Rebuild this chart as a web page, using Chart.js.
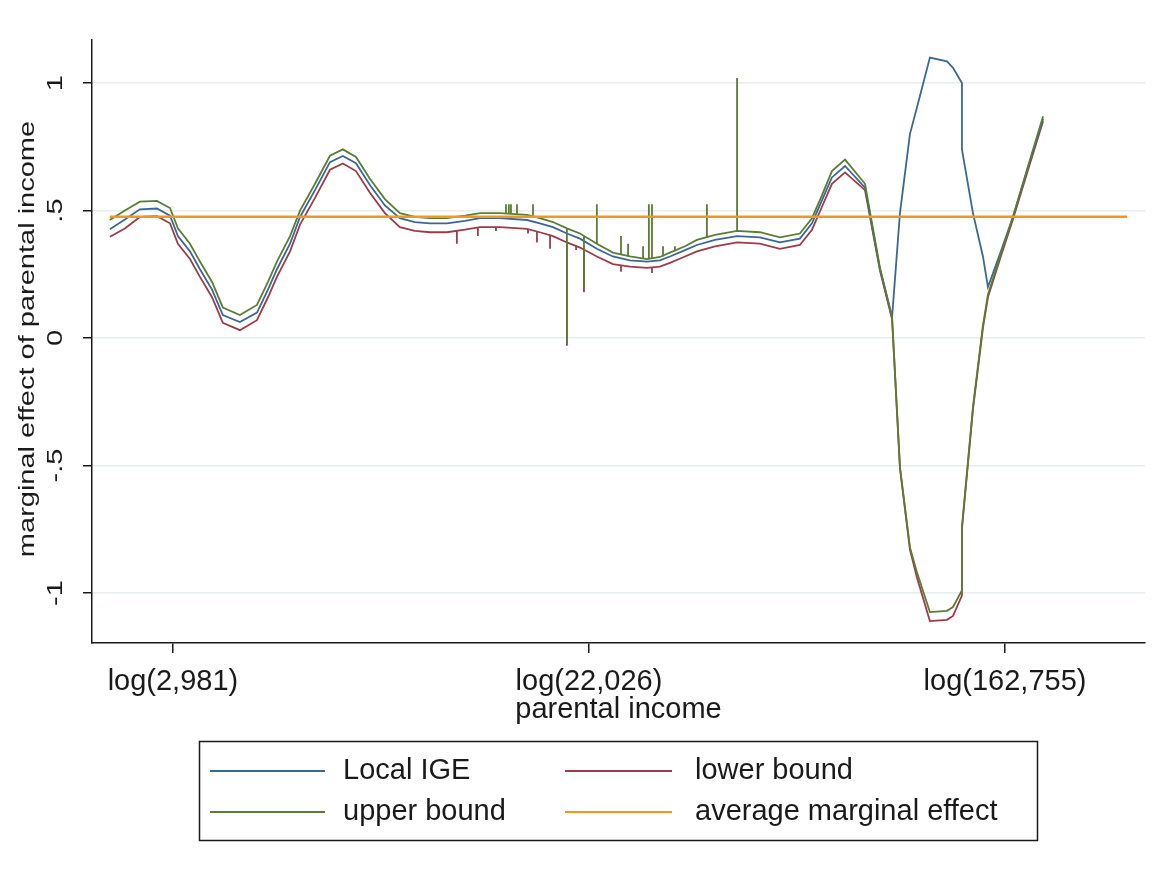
<!DOCTYPE html>
<html>
<head>
<meta charset="utf-8">
<script src="https://cdn.jsdelivr.net/npm/chart.js@4.4.1/dist/chart.umd.min.js"></script>
<style>
  html, body { margin: 0; padding: 0; background: #fff; }
  canvas { display: block; }
</style>
</head>
<body>
<canvas id="chart" width="1172" height="878"></canvas>
<script>
// log(parental income) grid shared by the three curves
const incomeLog = [
    7.697, 7.769, 7.841, 7.923, 7.986, 8.024, 8.082, 8.130, 8.188, 8.240,
    8.322, 8.404, 8.457, 8.500, 8.563, 8.611, 8.683, 8.755, 8.817, 8.880,
    8.947, 9.019, 9.091, 9.163, 9.236, 9.317, 9.404, 9.476, 9.572, 9.702,
    9.764, 9.827, 9.894, 9.957, 10.038, 10.115, 10.197, 10.279, 10.341, 10.389,
    10.462, 10.519, 10.606, 10.712, 10.822, 10.918, 11.014, 11.072, 11.120, 11.168,
    11.231, 11.327, 11.399, 11.457, 11.495, 11.543, 11.577, 11.639, 11.721, 11.750,
    11.793, 11.793, 11.846, 11.894, 11.918, 11.976, 12.038, 12.111, 12.183
];
const localIGE = [
    0.427, 0.465, 0.505, 0.508, 0.48, 0.40, 0.34, 0.27, 0.19, 0.09,
    0.063, 0.10, 0.19, 0.27, 0.37, 0.475, 0.58, 0.69, 0.714, 0.686,
    0.60, 0.52, 0.47, 0.455, 0.45, 0.45, 0.46, 0.47, 0.47, 0.463,
    0.45, 0.435, 0.41, 0.39, 0.35, 0.32, 0.305, 0.30, 0.305, 0.32,
    0.345, 0.365, 0.385, 0.40, 0.395, 0.375, 0.39, 0.45, 0.54, 0.63,
    0.675, 0.59, 0.27, 0.08, 0.49, 0.80, 0.905, 1.10, 1.085, 1.06,
    1.00, 0.74, 0.49, 0.32, 0.20, 0.33, 0.475, 0.67, 0.86
];
const upperBound = [
    0.463, 0.50, 0.535, 0.538, 0.51, 0.43, 0.37, 0.30, 0.22, 0.12,
    0.09, 0.13, 0.22, 0.30, 0.40, 0.50, 0.605, 0.715, 0.74, 0.71,
    0.625, 0.545, 0.49, 0.475, 0.47, 0.47, 0.48, 0.49, 0.49, 0.483,
    0.47, 0.455, 0.43, 0.41, 0.37, 0.335, 0.32, 0.31, 0.318, 0.335,
    0.36, 0.385, 0.405, 0.42, 0.415, 0.395, 0.41, 0.47, 0.56, 0.655,
    0.70, 0.605, 0.275, 0.085, -0.506, -0.82, -0.92, -1.075, -1.07, -1.055,
    -0.99, -0.74, -0.27, 0.05, 0.17, 0.32, 0.475, 0.675, 0.87
];
const lowerBound = [
    0.397, 0.43, 0.475, 0.478, 0.45, 0.37, 0.31, 0.24, 0.16, 0.06,
    0.031, 0.07, 0.16, 0.24, 0.34, 0.445, 0.55, 0.66, 0.685, 0.655,
    0.57, 0.49, 0.435, 0.42, 0.415, 0.415, 0.425, 0.435, 0.435, 0.428,
    0.415, 0.40, 0.375, 0.355, 0.32, 0.29, 0.28, 0.275, 0.28, 0.295,
    0.32, 0.34, 0.36, 0.375, 0.37, 0.35, 0.365, 0.425, 0.515, 0.605,
    0.65, 0.58, 0.265, 0.075, -0.51, -0.83, -0.94, -1.11, -1.105, -1.09,
    -1.01, -0.75, -0.28, 0.04, 0.16, 0.31, 0.465, 0.66, 0.85
];

// single-observation spikes in the bounds (x, value on the curve, value at the tip)
const upperSpikeX    = [9.601, 9.615, 9.625, 9.654, 9.731, 9.894, 9.976, 10.038, 10.154, 10.188, 10.260, 10.288, 10.303, 10.356, 10.413, 10.567, 10.712];
const upperSpikeFrom = [0.49, 0.49, 0.49, 0.488, 0.48, 0.43, 0.40, 0.37, 0.33, 0.322, 0.312, 0.31, 0.31, 0.32, 0.34, 0.395, 0.42];
const upperSpikeTo   = [0.525, 0.525, 0.525, 0.525, 0.525, -0.02, 0.20, 0.525, 0.40, 0.37, 0.36, 0.525, 0.525, 0.36, 0.36, 0.525, 1.02];
const lowerSpikeX    = [9.365, 9.466, 9.553, 9.707, 9.750, 9.813, 9.894, 9.938, 9.976, 10.154, 10.303];
const lowerSpikeFrom = [0.42, 0.435, 0.435, 0.428, 0.42, 0.405, 0.375, 0.36, 0.35, 0.285, 0.275];
const lowerSpikeTo   = [0.37, 0.40, 0.42, 0.41, 0.375, 0.35, -0.03, 0.345, 0.18, 0.26, 0.255];

// average marginal effect, drawn across the data range
const ameX = [7.697, 12.587];
const ameY = [0.476, 0.476];

const seriesNames = ['Local IGE', 'lower bound', 'upper bound', 'average marginal effect'];
const xTickValues = [8, 10, 12];
const xTickLabels = ['log(2,981)', 'log(22,026)', 'log(162,755)'];
const yTickValues = [-1, -0.5, 0, 0.5, 1];
const yTickLabels = ['-1', '-.5', '0', '.5', '1'];
const yTitle = 'marginal effect of parental income';

const BLUE = '#3b6893';
const RED = '#9b3d48';
const GREEN = '#5a7d35';
const ORANGE = '#f0981f';
const INK = '#1a1a1a';
const FONT_FAMILY = "'Liberation Sans', Arial, sans-serif";
const FONT_SIZE = 29;

const toPoints = (xs, ys) => xs.map((x, i) => ({ x, y: ys[i] }));

function spikePoints(xs, from, to) {
    const pts = [];
    xs.forEach((x, i) => {
        pts.push({ x, y: from[i] }, { x, y: to[i] }, { x, y: null });
    });
    return pts;
}

function lineSet(label, data, color, width, order) {
    return {
        label, data, order,
        borderColor: color,
        borderWidth: width,
        pointRadius: 0,
        tension: 0,
        spanGaps: false,
        fill: false,
    };
}

// rotated text, baseline at screen x, squeezed across its height like Stata's vertical text
function drawVertical(ctx, text, x, y, squeeze) {
    ctx.save();
    ctx.translate(x, y);
    ctx.rotate(-Math.PI / 2);
    ctx.scale(1, squeeze);
    ctx.fillText(text, 0, 0);
    ctx.restore();
}

// y tick labels and title are vertical, and the legend is a boxed 2x2 grid
const stataDecor = {
    id: 'stataDecor',
    afterDraw(chart) {
        const { ctx, scales: { y } } = chart;
        ctx.save();
        ctx.font = `${FONT_SIZE}px ${FONT_FAMILY}`;
        ctx.fillStyle = INK;
        ctx.textAlign = 'center';
        ctx.textBaseline = 'alphabetic';
        yTickValues.forEach((v, i) => {
            drawVertical(ctx, yTickLabels[i], 62, y.getPixelForValue(v), 0.74);
        });
        drawVertical(ctx, yTitle, 34, 339, 0.78);

        ctx.lineWidth = 1.5;
        ctx.strokeStyle = INK;
        ctx.strokeRect(199.5, 741.5, 838, 99);

        const colors = [BLUE, RED, GREEN, ORANGE];
        const cols = [{ x1: 210, x2: 325, tx: 343 }, { x1: 565, x2: 672, tx: 695 }];
        const rows = [771, 812];
        ctx.textAlign = 'left';
        ctx.textBaseline = 'middle';
        seriesNames.forEach((name, i) => {
            const c = cols[i % 2], ry = rows[Math.floor(i / 2)];
            ctx.beginPath();
            ctx.strokeStyle = colors[i];
            ctx.lineWidth = 2;
            ctx.moveTo(c.x1, ry);
            ctx.lineTo(c.x2, ry);
            ctx.stroke();
            ctx.fillText(name, c.tx, ry);
        });
        ctx.restore();
    }
};

const ctx = document.getElementById('chart').getContext('2d');
new Chart(ctx, {
    type: 'line',
    data: {
        datasets: [
            lineSet(seriesNames[3], toPoints(ameX, ameY), ORANGE, 2.4, 0),
            lineSet(seriesNames[2], toPoints(incomeLog, upperBound), GREEN, 1.8, 1),
            lineSet('upper spikes', spikePoints(upperSpikeX, upperSpikeFrom, upperSpikeTo), GREEN, 1.8, 1),
            lineSet(seriesNames[0], toPoints(incomeLog, localIGE), BLUE, 1.8, 2),
            lineSet(seriesNames[1], toPoints(incomeLog, lowerBound), RED, 1.8, 3),
            lineSet('lower spikes', spikePoints(lowerSpikeX, lowerSpikeFrom, lowerSpikeTo), RED, 1.8, 4),
        ],
    },
    options: {
        responsive: false,
        animation: false,
        devicePixelRatio: 1,
        layout: { padding: { top: 40, left: 0, right: 27, bottom: 151 } },
        plugins: {
            legend: { display: false },
            tooltip: { enabled: false },
        },
        scales: {
            x: {
                type: 'linear',
                min: 7.611,
                max: 12.673,
                afterBuildTicks: (scale) => { scale.ticks = xTickValues.map(v => ({ value: v })); },
                afterFit: (scale) => { scale.height = 84; },
                grid: { drawOnChartArea: false, tickLength: 10, color: INK, lineWidth: 1.5 },
                border: { color: INK, width: 1.5 },
                ticks: {
                    padding: 12,
                    maxRotation: 0,
                    color: INK,
                    font: { family: FONT_FAMILY, size: FONT_SIZE },
                    callback: (value) => xTickLabels[xTickValues.indexOf(value)],
                },
                title: {
                    display: true,
                    text: 'parental income',
                    color: INK,
                    padding: 0,
                    font: { family: FONT_FAMILY, size: FONT_SIZE },
                },
            },
            y: {
                min: -1.196,
                max: 1.169,
                afterBuildTicks: (scale) => { scale.ticks = yTickValues.map(v => ({ value: v })); },
                afterFit: (scale) => { scale.width = 92; },
                grid: { color: '#e8eef0', lineWidth: 1.5, tickLength: 9, tickColor: INK, tickWidth: 1.5 },
                border: { color: INK, width: 1.5 },
                ticks: { display: false },
                title: { display: false },
            },
        },
    },
    plugins: [stataDecor],
});
</script>
</body>
</html>
